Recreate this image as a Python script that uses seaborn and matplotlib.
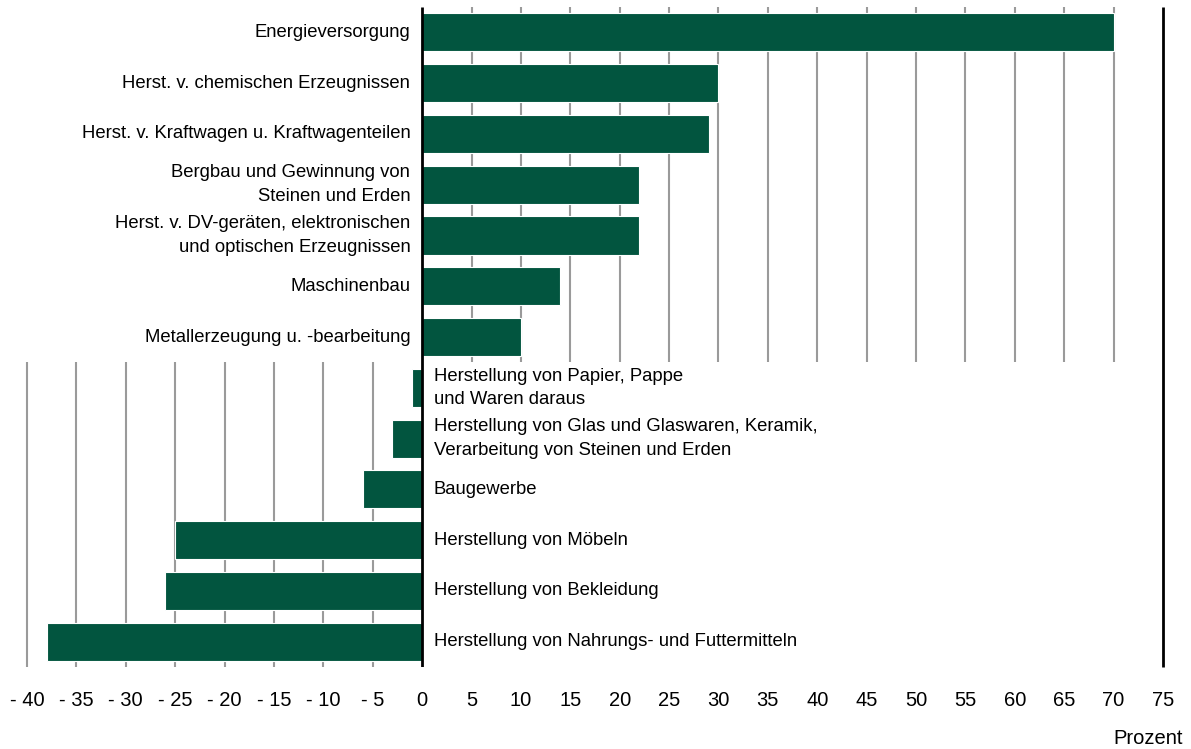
import pandas as pd
import seaborn as sns
import matplotlib.pyplot as plt

# Veraenderung in Prozent je Wirtschaftszweig
bereiche = [
    'Energieversorgung',
    'Herst. v. chemischen Erzeugnissen',
    'Herst. v. Kraftwagen u. Kraftwagenteilen',
    'Bergbau und Gewinnung von\nSteinen und Erden',
    'Herst. v. DV-geräten, elektronischen\nund optischen Erzeugnissen',
    'Maschinenbau',
    'Metallerzeugung u. -bearbeitung',
    'Herstellung von Papier, Pappe\nund Waren daraus',
    'Herstellung von Glas und Glaswaren, Keramik,\nVerarbeitung von Steinen und Erden',
    'Baugewerbe',
    'Herstellung von Möbeln',
    'Herstellung von Bekleidung',
    'Herstellung von Nahrungs- und Futtermitteln',
]
werte = [70, 30, 29, 22, 22, 14, 10, -1, -3, -6, -25, -26, -38]
x_ticks = list(range(-40, 80, 5))

df = pd.DataFrame({'bereich': bereiche, 'wert': werte})

sns.set_style('white')
plt.rcParams['font.family'] = ['Liberation Sans', 'DejaVu Sans']
plt.rcParams['text.color'] = 'black'
plt.rcParams['xtick.color'] = 'black'

fig = plt.figure(figsize=(11.91, 7.49), dpi=100)
ax = fig.add_axes([27 / 1191, 1 - 667 / 749, (1163 - 27) / 1191, 660 / 749])

grid_col = '#9a9a9a'
n_pos = sum(1 for w in werte if w >= 0)
for t in x_ticks:
    if t > 0 and t < 75:
        ax.vlines(t, -0.5, n_pos - 0.5, color=grid_col, lw=1.5, zorder=0)
    elif t < 0:
        ax.vlines(t, n_pos - 0.5, len(werte) - 0.5, color=grid_col, lw=1.5,
                  zorder=0, clip_on=False)

sns.barplot(data=df, x='wert', y='bereich', orient='h', color='#02553f',
            width=0.75, edgecolor='white', linewidth=0.8, saturation=1,
            ax=ax, zorder=2)

ax.vlines(0, -0.5, len(werte) - 0.5, color='black', lw=2, zorder=3)
ax.vlines(75, -0.5, len(werte) - 0.5, color='black', lw=2, zorder=3,
          clip_on=False)

for i, (name, w) in enumerate(zip(bereiche, werte)):
    if w >= 0:
        ax.text(-1.2, i, name, ha='right', va='center', fontsize=13.3,
                linespacing=1.5, color='black')
    else:
        ax.text(1.2, i, name, ha='left', va='center', fontsize=13.3,
                linespacing=1.5, color='black')

ax.set_xlim(-40, 75)
ax.set_ylim(len(werte) - 0.5, -0.5)
ax.set_xticks(x_ticks)
ax.set_xticklabels([f'- {abs(t)}' if t < 0 else str(t) for t in x_ticks],
                   fontsize=14.5)
ax.tick_params(axis='x', length=0, pad=17)
ax.set_yticks([])
ax.set_xlabel('')
ax.set_ylabel('')
for s in ax.spines.values():
    s.set_visible(False)

fig.text(0.993, 0.001, 'Prozent', ha='right', va='bottom', fontsize=14.5)

plt.savefig('out.png', dpi=100)
plt.close()
